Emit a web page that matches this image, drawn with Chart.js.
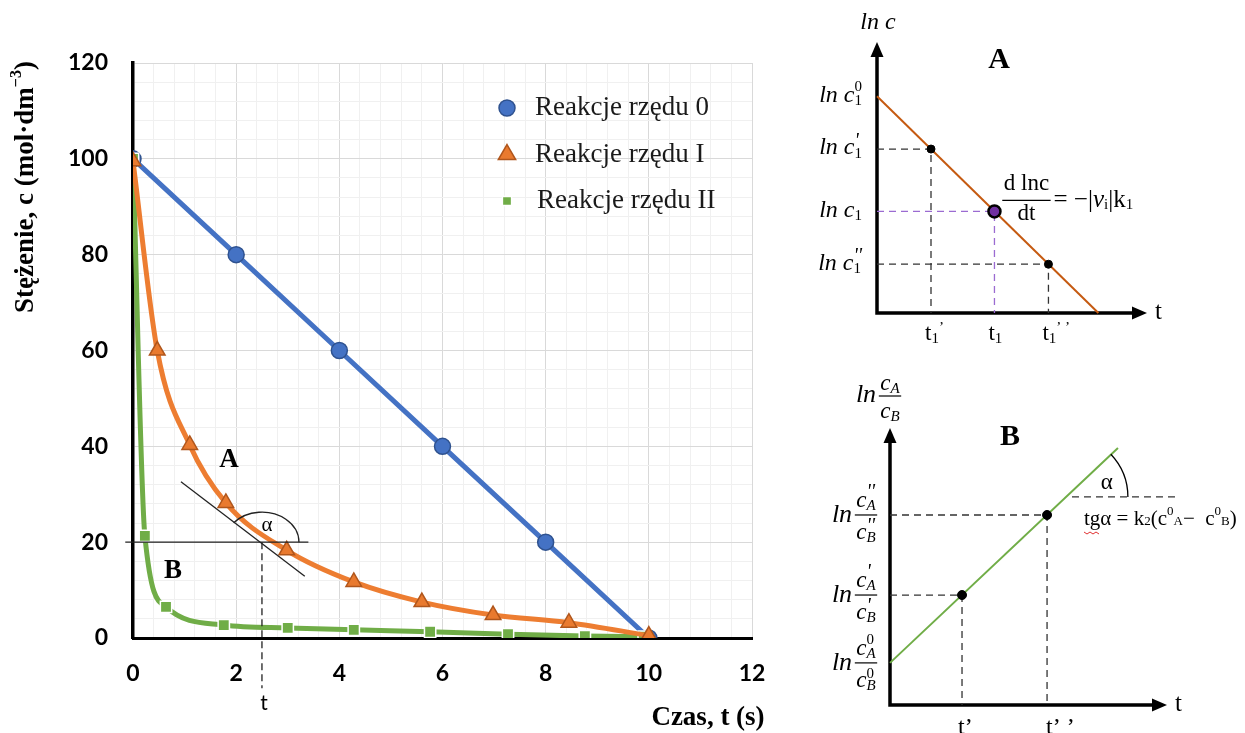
<!DOCTYPE html>
<html>
<head>
<meta charset="utf-8">
<title>Kinetyka reakcji</title>
<script src="https://cdn.jsdelivr.net/npm/chart.js"></script>
<style>
  body { margin: 0; background: #fff; }
  #wrap { position: relative; width: 1245px; height: 733px; overflow: hidden; }
  canvas { position: absolute; }
</style>
</head>
<body>
<div id="wrap">
  <canvas id="mainChart" width="780" height="733" style="left:0;top:0"></canvas>
  <canvas id="chartA" width="465" height="345" style="left:780px;top:0"></canvas>
  <canvas id="chartB" width="465" height="373" style="left:780px;top:360px"></canvas>
</div>
<script>
// dane - wykres glowny
var seriesNames = ["Reakcje rzędu 0", "Reakcje rzędu I", "Reakcje rzędu II"];
var timeOrder0 = [0, 2, 4, 6, 8, 10];
var concOrder0 = [100, 80, 60, 40, 20, 0];
var timeOrder1 = [0, 0.47, 1.1, 1.8, 2.98, 4.28, 5.6, 6.98, 8.45, 10];
var concOrder1 = [99.5, 60, 40.3, 28.2, 18.3, 11.7, 7.5, 4.8, 3.2, 0.5];
var timeOrder2 = [0, 0.23, 0.64, 1.76, 3.0, 4.28, 5.76, 7.27, 8.76, 9.9];
var concOrder2 = [100, 21.3, 6.5, 2.7, 2.1, 1.7, 1.3, 0.8, 0.4, 0.3];
var xTicks = [0, 2, 4, 6, 8, 10, 12];
var yTicks = [0, 20, 40, 60, 80, 100, 120];

// styczna w punkcie t
var tangentPoint = [2.5, 20];
var tangentT = [0.93, 3.33], tangentC = [32.6, 12.9];
var levelT = [-0.15, 3.4], levelC = [20, 20];
var dropT = [2.5, 2.5], dropC = [20, -10.5];

// wykres A (ln c od t)
var lineAT = [0, 8.2], lineAC = [8, 0];
var dotsAT = [2, 6.35], dotsAC = [6.05, 1.8];
var midAT = [4.35], midAC = [3.75];
var levelsA = [8, 6.05, 3.75, 1.8];
var timesA = [2, 4.35, 6.35];

// wykres B (ln cA/cB od t)
var lineBT = [0, 8.23], lineBC = [1.52, 9.28];
var dotsBT = [2.6, 5.67], dotsBC = [3.97, 6.86];
var refBT = [6.57, 10.29], refBC = [7.51, 7.51];
var levelsB = [6.86, 3.97, 1.52];

var serif = '"Liberation Serif", "Times New Roman", serif';

function pts(xs, ys) {
  return xs.map(function (x, i) { return { x: x, y: ys[i] }; });
}

function measureRuns(ctx, runs) {
  var cursor = 0, lastStart = 0, starts = [];
  runs.forEach(function (r) {
    ctx.font = r.f;
    var w = ctx.measureText(r.t).width;
    var start = r.stack ? lastStart : cursor;
    starts.push(start);
    cursor = Math.max(cursor, start + w);
    lastStart = start;
  });
  return { width: cursor, starts: starts };
}

// rysuje tekst z kawalkow (indeksy gorne/dolne)
function drawRuns(ctx, runs, x, y, align) {
  var m = measureRuns(ctx, runs);
  var x0 = align === 'center' ? x - m.width / 2 : (align === 'right' ? x - m.width : x);
  ctx.textAlign = 'left';
  ctx.textBaseline = 'middle';
  runs.forEach(function (r, i) {
    ctx.font = r.f;
    ctx.fillText(r.t, x0 + m.starts[i], y + (r.dy || 0));
  });
  return m.width;
}

function drawFrac(ctx, cx, cy, num, den, up, down) {
  var w = Math.max(measureRuns(ctx, num).width, measureRuns(ctx, den).width) + 3;
  ctx.lineWidth = 1.2;
  ctx.beginPath();
  ctx.moveTo(cx - w / 2, cy);
  ctx.lineTo(cx + w / 2, cy);
  ctx.stroke();
  drawRuns(ctx, num, cx, cy - up, 'center');
  drawRuns(ctx, den, cx, cy + down, 'center');
}

var legendRadius = [8, 10, 6.5];

var mainDecor = {
  id: 'mainDecor',
  afterDraw: function (chart) {
    var ctx = chart.ctx, a = chart.chartArea, xs = chart.scales.x, ys = chart.scales.y;
    ctx.save();
    var cx = xs.getPixelForValue(tangentPoint[0]), cy = ys.getPixelForValue(tangentPoint[1]);
    ctx.strokeStyle = '#222';
    ctx.lineWidth = 1.3;
    ctx.beginPath();
    ctx.ellipse(cx, cy, 37, 30, 0, -2.44, 0);
    ctx.stroke();

    ctx.fillStyle = '#000';
    drawRuns(ctx, [{ t: 'α', f: '21px ' + serif }], cx + 5, cy - 17, 'center');
    drawRuns(ctx, [{ t: 'A', f: 'bold 27px ' + serif }], cx - 33, cy - 82, 'center');
    drawRuns(ctx, [{ t: 'B', f: 'bold 27px ' + serif }], a.left + 40, cy + 29, 'center');
    drawRuns(ctx, [{ t: 't', f: '21px Lato' }], cx + 2, 703, 'center');

    // legenda
    [0, 1, 2].forEach(function (i) {
      var ds = chart.data.datasets[i];
      var y = a.top + 45 + i * 46.5;
      var mx = a.right - 245;
      ctx.fillStyle = ds.pointBackgroundColor;
      ctx.strokeStyle = ds.pointBorderColor;
      ctx.lineWidth = ds.pointBorderWidth;
      Chart.helpers.drawPoint(ctx, { pointStyle: ds.pointStyle, radius: legendRadius[i], rotation: 0, borderWidth: ds.pointBorderWidth }, mx, y);
      ctx.fillStyle = '#1a1a1a';
      drawRuns(ctx, [{ t: ds.label, f: '27px ' + serif }], mx + 28 + (i === 2 ? 2 : 0), y, 'left');
    });

    // tytuly osi
    ctx.fillStyle = '#000';
    drawRuns(ctx, [{ t: 'Czas, t (s)', f: 'bold 27px ' + serif }], 708, 718, 'center');
    ctx.translate(26, 187);
    ctx.rotate(-Math.PI / 2);
    drawRuns(ctx, [
      { t: 'Stężenie, c (mol·dm', f: 'bold 27px ' + serif },
      { t: '−3', f: 'bold 16px ' + serif, dy: -9 },
      { t: ')', f: 'bold 27px ' + serif }
    ], 0, 0, 'center');
    ctx.restore();
  }
};

var mainChart = new Chart(document.getElementById('mainChart'), {
  type: 'scatter',
  data: {
    datasets: [
      {
        label: seriesNames[0], data: pts(timeOrder0, concOrder0), showLine: true,
        borderColor: '#4472C4', borderWidth: 5, pointStyle: 'circle', pointRadius: 8,
        pointBackgroundColor: '#4472C4', pointBorderColor: '#2F528F', pointBorderWidth: 1.5, order: 3
      },
      {
        label: seriesNames[1], data: pts(timeOrder1, concOrder1), showLine: true, cubicInterpolationMode: 'monotone',
        borderColor: '#ED7D31', borderWidth: 5, pointStyle: 'triangle', pointRadius: 9,
        pointBackgroundColor: '#E97A2F', pointBorderColor: '#B0561C', pointBorderWidth: 1.5, order: 1
      },
      {
        label: seriesNames[2], data: pts(timeOrder2, concOrder2), showLine: true, cubicInterpolationMode: 'monotone',
        borderColor: '#70AD47', borderWidth: 5, pointStyle: 'rect', pointRadius: 8,
        pointBackgroundColor: '#70AD47', pointBorderColor: '#ffffff', pointBorderWidth: 1.5, order: 2
      },
      { data: pts(tangentT, tangentC), showLine: true, borderColor: '#222', borderWidth: 1.3, pointRadius: 0, clip: false, order: 0 },
      { data: pts(levelT, levelC), showLine: true, borderColor: '#222', borderWidth: 1.3, pointRadius: 0, clip: false, order: 0 },
      { data: pts(dropT, dropC), showLine: true, borderColor: '#222', borderWidth: 1.3, borderDash: [7, 4], pointRadius: 0, clip: false, order: 0 }
    ]
  },
  options: {
    responsive: false,
    animation: false,
    events: [],
    layout: { padding: { top: 63, right: 28, left: 0, bottom: 0 } },
    plugins: { legend: { display: false }, tooltip: { enabled: false } },
    scales: {
      x: {
        type: 'linear', min: 0, max: 12,
        afterFit: function (s) { s.height = 95; s.paddingLeft = 0; s.paddingRight = 0; },
        ticks: {
          stepSize: 0.4, autoSkip: false, maxRotation: 0, padding: 22, color: '#000',
          font: { family: 'Lato', weight: 'bold', size: 23 },
          callback: function (v) { var r = Math.round(v * 10) / 10; return xTicks.indexOf(r) >= 0 ? String(r) : ''; }
        },
        grid: { drawTicks: false, color: function (c) { return c.index % 5 === 0 ? '#D9D9D9' : '#F0F0F0'; } },
        border: { color: '#000', width: 3 }
      },
      y: {
        type: 'linear', min: 0, max: 120,
        afterFit: function (s) { s.width = 133; },
        ticks: {
          stepSize: 4, autoSkip: false, padding: 25, color: '#000',
          font: { family: 'Lato', weight: 'bold', size: 23 },
          callback: function (v) { var r = Math.round(v); return yTicks.indexOf(r) >= 0 ? String(r) : ''; }
        },
        grid: { drawTicks: false, color: function (c) { return c.index % 5 === 0 ? '#D9D9D9' : '#F0F0F0'; } },
        border: { color: '#000', width: 3.5 }
      }
    }
  },
  plugins: [mainDecor]
});

// osie ze strzalkami dla schematow
var arrowAxes = {
  id: 'arrowAxes',
  beforeDatasetsDraw: function (chart) {
    var a = chart.chartArea, ctx = chart.ctx;
    ctx.save();
    ctx.strokeStyle = '#000';
    ctx.fillStyle = '#000';
    ctx.lineWidth = 3.5;
    ctx.beginPath();
    ctx.moveTo(a.left, a.top + 10);
    ctx.lineTo(a.left, a.bottom);
    ctx.lineTo(a.right - 10, a.bottom);
    ctx.stroke();
    ctx.beginPath();
    ctx.moveTo(a.left, a.top);
    ctx.lineTo(a.left - 6.5, a.top + 15);
    ctx.lineTo(a.left + 6.5, a.top + 15);
    ctx.closePath();
    ctx.fill();
    ctx.beginPath();
    ctx.moveTo(a.right, a.bottom);
    ctx.lineTo(a.right - 15, a.bottom - 6.5);
    ctx.lineTo(a.right - 15, a.bottom + 6.5);
    ctx.closePath();
    ctx.fill();
    ctx.restore();
  }
};

var hiddenScales = {
  x: { type: 'linear', min: 0, max: 10, display: false },
  y: { type: 'linear', min: 0, max: 10, display: false }
};

function guide(t, c, color) {
  return {
    data: pts([0, t, t], [c, c, 0]), showLine: true, borderColor: color, borderWidth: 1.3,
    borderDash: [7, 5], pointRadius: 0, clip: false, order: 5
  };
}

var primeFont = 'italic 20px ' + serif;

var decorA = {
  id: 'decorA',
  afterDraw: function (chart) {
    var ctx = chart.ctx, a = chart.chartArea, xs = chart.scales.x, ys = chart.scales.y;
    var it = 'italic 24px ' + serif, sm = '15px ' + serif, rg = '23px ' + serif;
    ctx.save();
    ctx.fillStyle = '#000';
    ctx.strokeStyle = '#000';
    drawRuns(ctx, [{ t: 'ln c', f: it }], a.left + 1, 23, 'center');
    drawRuns(ctx, [{ t: 'A', f: 'bold 30px ' + serif }], 219, 60, 'center');
    var marks = [['0', sm, -8], ["'", primeFont, -6], null, ["''", primeFont, -6]];
    levelsA.forEach(function (v, i) {
      var runs = [{ t: 'ln c', f: it }, { t: '1', f: sm, dy: 6 }];
      if (marks[i]) runs.push({ t: marks[i][0], f: marks[i][1], dy: marks[i][2], stack: true });
      drawRuns(ctx, runs, a.left - 15, ys.getPixelForValue(v) - 1, 'right');
    });
    var primes = ['’', '', '’ ’'];
    timesA.forEach(function (v, i) {
      var runs = [{ t: 't', f: rg }, { t: '1', f: sm, dy: 5 }];
      if (primes[i]) runs.push({ t: primes[i], f: sm, dy: -6 });
      drawRuns(ctx, runs, xs.getPixelForValue(v) - 6, a.bottom + 21, 'left');
    });
    drawRuns(ctx, [{ t: 't', f: '25px ' + serif }], a.right + 8, a.bottom - 1, 'left');
    // d ln c / dt
    var fx = xs.getPixelForValue(midAT[0]) + 32, fy = ys.getPixelForValue(midAC[0]) - 11;
    drawFrac(ctx, fx, fy, [{ t: 'd lnc', f: rg }], [{ t: 'dt', f: rg }], 16, 14);
    drawRuns(ctx, [
      { t: '= −|', f: '25px ' + serif }, { t: 'ν', f: 'italic 25px ' + serif }, { t: 'i', f: sm, dy: 5 },
      { t: '|k', f: '25px ' + serif }, { t: '1', f: sm, dy: 5 }
    ], fx + 27, fy, 'left');
    ctx.restore();
  }
};

new Chart(document.getElementById('chartA'), {
  type: 'scatter',
  data: {
    datasets: [
      { data: pts(midAT, midAC), pointRadius: 6, pointBackgroundColor: '#7030A0', pointBorderColor: '#000', pointBorderWidth: 2.5, order: 0 },
      { data: pts(dotsAT, dotsAC), pointRadius: 4, pointBackgroundColor: '#000', pointBorderColor: '#000', order: 1 },
      { data: pts(lineAT, lineAC), showLine: true, borderColor: '#C55A11', borderWidth: 2, pointRadius: 0, clip: false, order: 2 },
      guide(dotsAT[0], dotsAC[0], '#333'),
      guide(dotsAT[1], dotsAC[1], '#333'),
      guide(midAT[0], midAC[0], '#9B6BD1')
    ]
  },
  options: {
    responsive: false, animation: false, events: [],
    layout: { padding: { left: 97, top: 42, right: 98, bottom: 32 } },
    plugins: { legend: { display: false }, tooltip: { enabled: false } },
    scales: hiddenScales
  },
  plugins: [arrowAxes, decorA]
});

var decorB = {
  id: 'decorB',
  afterDraw: function (chart) {
    var ctx = chart.ctx, a = chart.chartArea, xs = chart.scales.x, ys = chart.scales.y;
    var it = 'italic 23px ' + serif, itl = 'italic 26px ' + serif, sm = 'italic 15px ' + serif;
    var rg = '21px ' + serif, rs = '13px ' + serif;
    ctx.save();
    ctx.fillStyle = '#000';
    ctx.strokeStyle = '#000';
    // etykieta osi y
    drawRuns(ctx, [{ t: 'ln', f: itl }], 86, 35, 'center');
    drawFrac(ctx, 110, 36, [{ t: 'c', f: it }, { t: 'A', f: sm, dy: 5 }], [{ t: 'c', f: it }, { t: 'B', f: sm, dy: 5 }], 12, 16);
    drawRuns(ctx, [{ t: 'B', f: 'bold 30px ' + serif }], 230, 77, 'center');
    var marks = [["''", primeFont, -8], ["'", primeFont, -8], ['0', '15px ' + serif, -9]];
    levelsB.forEach(function (v, i) {
      var y = ys.getPixelForValue(v);
      drawRuns(ctx, [{ t: 'ln', f: itl }], 62, y, 'center');
      var mk = marks[i];
      drawFrac(ctx, 86, y,
        [{ t: 'c', f: it }, { t: 'A', f: sm, dy: 5 }, { t: mk[0], f: mk[1], dy: mk[2], stack: true }],
        [{ t: 'c', f: it }, { t: 'B', f: sm, dy: 5 }, { t: mk[0], f: mk[1], dy: mk[2] + 2, stack: true }], 14, 18);
    });
    drawRuns(ctx, [{ t: 't’', f: '24px ' + serif }], xs.getPixelForValue(dotsBT[0]) - 4, 368, 'left');
    drawRuns(ctx, [{ t: 't’ ’', f: '24px ' + serif }], xs.getPixelForValue(dotsBT[1]) - 1, 368, 'left');
    drawRuns(ctx, [{ t: 't', f: '25px ' + serif }], a.right + 8, a.bottom - 1, 'left');
    // kat alfa
    var cx = xs.getPixelForValue(6.35), cy = ys.getPixelForValue(refBC[0]);
    ctx.lineWidth = 1.3;
    ctx.beginPath();
    ctx.arc(cx, cy, 62, -0.76, 0);
    ctx.stroke();
    drawRuns(ctx, [{ t: 'α', f: '23px ' + serif }], cx + 41, cy - 14, 'center');
    var tx = 304, ty = 159;
    drawRuns(ctx, [
      { t: 'tgα = k', f: rg }, { t: '2', f: rs, dy: 3 }, { t: '(c', f: rg }, { t: '0', f: rs, dy: -7 },
      { t: 'A', f: rs, dy: 3 }, { t: '−  c', f: rg }, { t: '0', f: rs, dy: -7 }, { t: 'B', f: rs, dy: 3 }, { t: ')', f: rg }
    ], tx, ty, 'left');
    // czerwone podkreslenie
    ctx.font = rg;
    var w = ctx.measureText('tg').width;
    ctx.strokeStyle = '#E03030';
    ctx.lineWidth = 1;
    ctx.beginPath();
    for (var k = 0; k <= w; k += 3) {
      var yy = ty + 13 + ((k / 3) % 2 === 0 ? 0 : 2);
      if (k === 0) ctx.moveTo(tx + k, yy); else ctx.lineTo(tx + k, yy);
    }
    ctx.stroke();
    ctx.restore();
  }
};

new Chart(document.getElementById('chartB'), {
  type: 'scatter',
  data: {
    datasets: [
      { data: pts(dotsBT, dotsBC), pointRadius: 4.5, pointBackgroundColor: '#000', pointBorderColor: '#000', order: 0 },
      { data: pts(lineBT, lineBC), showLine: true, borderColor: '#70AD47', borderWidth: 2, pointRadius: 0, clip: false, order: 1 },
      guide(dotsBT[0], dotsBC[0], '#333'),
      guide(dotsBT[1], dotsBC[1], '#333'),
      { data: pts(refBT, refBC), showLine: true, borderColor: '#333', borderWidth: 1.3, borderDash: [7, 5], pointRadius: 0, clip: false, order: 5 }
    ]
  },
  options: {
    responsive: false, animation: false, events: [],
    layout: { padding: { left: 110, top: 68, right: 78, bottom: 28 } },
    plugins: { legend: { display: false }, tooltip: { enabled: false } },
    scales: hiddenScales
  },
  plugins: [arrowAxes, decorB]
});
</script>
</body>
</html>
